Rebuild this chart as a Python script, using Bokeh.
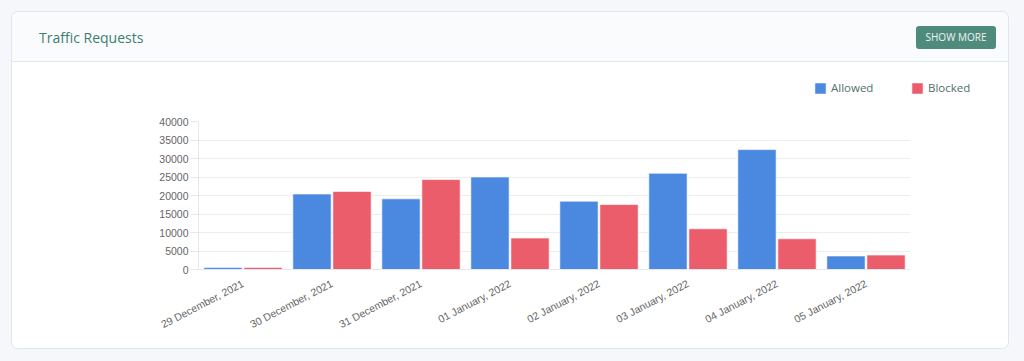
from bokeh.plotting import figure
from bokeh.models import (ColumnDataSource, FactorRange, Legend, LegendItem, Div, Spacer,
                          SingleIntervalTicker)
from bokeh.layouts import column, row
from bokeh.transform import dodge
from bokeh.embed import file_html
from bokeh.resources import INLINE

dates = ["29 December, 2021", "30 December, 2021", "31 December, 2021", "01 January, 2022",
         "02 January, 2022", "03 January, 2022", "04 January, 2022", "05 January, 2022"]
allowed = [520, 20400, 19100, 25000, 18450, 26000, 32400, 3650]
blocked = [560, 21100, 24300, 8500, 17550, 11000, 8300, 3900]
series_names = ["Allowed", "Blocked"]
title_text = "Traffic Requests"
button_text = "SHOW MORE"

BLUE = "#4b89e1"
RED = "#ec5d6b"

src = ColumnDataSource(dict(date=dates, allowed=allowed, blocked=blocked))

header = Div(
    text=(
        '<div style="position:relative;width:996px;height:50px;font-family:\'Open Sans\';">'
        '<span style="position:absolute;left:27px;top:16px;font-size:14px;color:#3d7e6f;white-space:nowrap;">'
        + title_text + '</span>'
        '<span style="position:absolute;left:904px;top:14px;width:80px;height:23px;background:#4e8b7c;'
        'border-radius:3px;color:#eef5f3;font-size:10px;line-height:23px;text-align:center;'
        'white-space:nowrap;">' + button_text + '</span></div>'
    ),
    width=996, height=50, margin=0,
    styles={"background-color": "#fafbfd", "box-shadow": "inset 0 -1px 0 #dce6f4"},
)

x_range = FactorRange(factors=dates, range_padding=0)

# main chart
p = figure(x_range=x_range, y_range=(0, 40000),
           width=996, height=241, output_backend="svg", toolbar_location=None,
           min_border_left=186, min_border_right=98, min_border_top=14, min_border_bottom=79,
           margin=0)
p.outline_line_color = None
p.background_fill_color = "white"
p.border_fill_color = "white"

bar_kw = dict(width=0.43, source=src, line_color="white", line_width=1, line_alpha=0.6)
p.vbar(x=dodge("date", -0.225, range=x_range), top="allowed", fill_color=BLUE, **bar_kw)
p.vbar(x=dodge("date", 0.225, range=x_range), top="blocked", fill_color=RED, **bar_kw)

p.yaxis.ticker = SingleIntervalTicker(interval=5000)
p.xgrid.grid_line_color = None
p.ygrid.grid_line_color = "#ededed"

for ax in (p.xaxis, p.yaxis):
    ax.axis_line_color = "#e6e6ec"
    ax.major_label_text_font = "Liberation Sans"
    ax.major_label_text_font_size = "10.5px"
    ax.major_label_text_color = "#666666"
    ax.minor_tick_line_color = None

p.yaxis.major_tick_line_color = "#e6e6ec"
p.yaxis.major_tick_out = 8
p.yaxis.major_tick_in = 0
p.yaxis.major_label_standoff = 2
p.xaxis.major_tick_line_color = None
p.xaxis.major_label_orientation = 0.48
p.xaxis.major_label_standoff = 7

# legend strip above the chart: same series, y-range set above all values so the bars
# fall outside this strip's frame and only the legend is visible
lg_range = FactorRange(factors=dates, range_padding=0)
lg = figure(x_range=lg_range, y_range=(50000, 60000), width=206, height=45, output_backend="svg",
            toolbar_location=None, min_border=0, margin=0)
lg.axis.visible = False
lg.grid.grid_line_color = None
lg.outline_line_color = None
lg.border_fill_color = "white"
lg.background_fill_color = "white"
l1 = lg.vbar(x=dodge("date", -0.225, range=lg_range), top="allowed", fill_color=BLUE, **bar_kw)
l2 = lg.vbar(x=dodge("date", 0.225, range=lg_range), top="blocked", fill_color=RED, **bar_kw)

legend = Legend(items=[LegendItem(label=series_names[0], renderers=[l1]),
                       LegendItem(label=series_names[1], renderers=[l2])],
                location="bottom_left", orientation="horizontal",
                glyph_width=14, glyph_height=14, label_standoff=4, label_width=50, label_height=14,
                spacing=29, padding=0, margin=12,
                border_line_color=None, background_fill_alpha=0,
                label_text_font="Open Sans", label_text_font_size="11.5px", label_text_color="#51706b")
lg.add_layout(legend, "center")

legend_row = row(Spacer(width=789, height=45, margin=0), lg, width=996, height=45, margin=0,
                 styles={"background-color": "white"})

card = column(header, legend_row, p, width=996, height=336, margin=(12, 16, 13, 12),
              styles={"background-color": "white", "border-radius": "6px", "overflow": "hidden",
                      "box-shadow": "0 0 0 1px #dfe6f2"})
root = column(card, width=1024, height=361, margin=0, styles={"background-color": "#f5f7fb"})

open("out.html", "w").write(file_html(root, INLINE))
